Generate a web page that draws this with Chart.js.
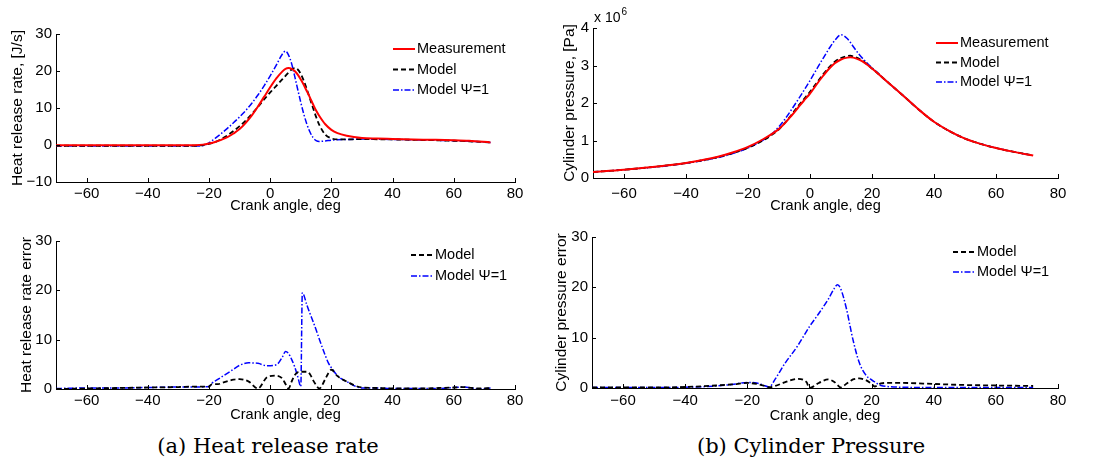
<!DOCTYPE html>
<html>
<head>
<meta charset="utf-8">
<script src="https://cdn.jsdelivr.net/npm/chart.js@4/dist/chart.umd.min.js"></script>
<style>
    body { margin: 0; background: #fff; width: 1096px; height: 472px; position: relative; overflow: hidden; }
    canvas { position: absolute; }
    .caption { position: absolute; top: 434px; font-family: "DejaVu Serif", "Liberation Serif", serif; font-size: 21px; color: #000; transform: translateX(-50%); white-space: nowrap; }
</style>
</head>
<body>
<canvas id="hrr" width="548" height="216" style="left:0;top:0"></canvas>
<canvas id="pres" width="548" height="216" style="left:548px;top:0"></canvas>
<canvas id="hrrErr" width="548" height="210" style="left:0;top:216px"></canvas>
<canvas id="presErr" width="548" height="210" style="left:548px;top:216px"></canvas>
<div class="caption" style="left:268px">(a) Heat release rate</div>
<div class="caption" style="left:811px">(b) Cylinder Pressure</div>
<script>
// --- Data ---
const xTicks = [-60, -40, -20, 0, 20, 40, 60, 80];
const hrrTicks = [-10, 0, 10, 20, 30];
const presTicks = [0, 1, 2, 3, 4];
const errTicks = [0, 10, 20, 30];

// heat release rate [J/s]
const hrrAngle = [-70, -60, -50, -40, -30, -25, -22, -20, -18, -16, -14, -12, -10, -8, -6, -4, -2, 0, 2, 4, 5, 6, 7, 8, 9, 10, 11, 12, 13, 14, 15, 16, 18, 20, 22, 25, 30, 35, 40, 50, 60, 65, 72];
const hrrMeasured = [-0.1, -0.1, -0.1, -0.1, -0.1, -0.05, 0.1, 0.4, 0.8, 1.4, 2.1, 3.1, 4.3, 6.0, 8.0, 10.4, 13.0, 15.6, 18.0, 19.9, 20.6, 20.8, 20.6, 20.0, 19.0, 17.7, 16.2, 14.5, 12.8, 11.0, 9.3, 7.9, 5.6, 4.1, 3.2, 2.5, 1.9, 1.75, 1.65, 1.45, 1.3, 1.15, 0.7];
const hrrModel = [-0.2, -0.2, -0.2, -0.2, -0.2, -0.2, 0.0, 0.3, 0.8, 1.6, 2.6, 3.8, 5.1, 6.6, 8.4, 10.3, 12.3, 14.2, 16.0, 17.8, 18.7, 19.6, 20.4, 20.8, 20.4, 19.2, 17.3, 15.0, 12.5, 10.0, 7.6, 5.5, 2.8, 1.8, 1.5, 1.5, 1.6, 1.55, 1.5, 1.35, 1.15, 1.0, 0.7];
const hrrModelPsi = [-0.3, -0.3, -0.3, -0.3, -0.3, -0.3, -0.2, 0.6, 1.8, 3.1, 4.5, 6.0, 7.6, 9.3, 11.3, 13.5, 16.0, 18.7, 21.6, 24.6, 25.4, 24.3, 22.0, 18.6, 15.0, 11.5, 8.3, 5.6, 3.5, 2.0, 1.2, 0.95, 1.1, 1.3, 1.4, 1.5, 1.6, 1.55, 1.5, 1.35, 1.15, 1.0, 0.7];

// cylinder pressure [1e6 Pa]
const presAngle = [-70, -60, -50, -40, -30, -25, -20, -15, -12, -10, -8, -6, -4, -2, 0, 2, 4, 6, 8, 10, 12, 13, 14, 16, 18, 20, 22, 25, 30, 35, 40, 45, 50, 55, 60, 65, 72];
const presMeasured = [0.16, 0.22, 0.30, 0.40, 0.56, 0.68, 0.83, 1.04, 1.19, 1.31, 1.47, 1.66, 1.86, 2.06, 2.25, 2.48, 2.70, 2.90, 3.06, 3.16, 3.21, 3.22, 3.21, 3.15, 3.05, 2.92, 2.78, 2.56, 2.20, 1.83, 1.50, 1.25, 1.05, 0.91, 0.80, 0.71, 0.60];
const presModel = [0.16, 0.22, 0.30, 0.40, 0.55, 0.66, 0.81, 1.01, 1.17, 1.30, 1.48, 1.68, 1.90, 2.10, 2.30, 2.52, 2.74, 2.94, 3.10, 3.20, 3.25, 3.26, 3.24, 3.17, 3.06, 2.92, 2.78, 2.56, 2.20, 1.83, 1.50, 1.25, 1.05, 0.91, 0.80, 0.71, 0.60];
const presModelPsi = [0.16, 0.22, 0.29, 0.39, 0.54, 0.65, 0.80, 1.02, 1.20, 1.37, 1.58, 1.82, 2.07, 2.33, 2.60, 2.88, 3.16, 3.43, 3.67, 3.82, 3.72, 3.62, 3.50, 3.28, 3.10, 2.94, 2.79, 2.56, 2.20, 1.83, 1.50, 1.25, 1.05, 0.91, 0.80, 0.71, 0.60];

// heat release rate error
const hrrErrAngle = [-70, -60, -50, -40, -30, -25, -20, -19, -17, -15, -12, -10, -7, -4, -1, 2, 4, 5, 6, 7, 8, 9, 10, 10.5, 12, 13, 14, 15, 16, 18, 19, 20, 22, 25, 30, 35, 40, 45, 50, 55, 60, 63, 66, 68, 72];
const hrrErrModel = [0.0, 0.1, 0.2, 0.3, 0.4, 0.5, 0.5, 1.0, 1.0, 1.4, 1.9, 2.0, 1.5, 0.1, 2.4, 2.7, 2.1, 1.0, 0.1, 1.5, 2.8, 3.4, 3.5, 3.5, 3.5, 3.0, 1.8, 0.8, 0.1, 2.0, 3.2, 3.9, 2.6, 1.5, 0.3, 0.2, 0.1, 0.1, 0.1, 0.2, 0.3, 0.4, 0.2, 0.1, 0.2];
const hrrErrModelPsi = [0.1, 0.2, 0.2, 0.3, 0.4, 0.4, 0.5, 1.2, 2.0, 2.8, 4.0, 4.8, 5.3, 5.2, 4.7, 4.9, 6.5, 7.6, 7.2, 6.0, 4.5, 2.5, 0.5, 19.5, 17.0, 15.3, 13.7, 12.0, 10.2, 6.8, 5.3, 4.3, 2.7, 1.5, 0.2, 0.2, 0.1, 0.1, 0.1, 0.1, 0.3, 0.4, 0.2, 0.0, 0.2];

// cylinder pressure error
const presErrAngle = [-70, -60, -50, -40, -30, -25, -20, -17, -15, -13, -11, -8, -4, -1, 0, 3, 6, 8, 9, 10, 12, 13, 14, 16, 18, 20, 21, 22, 23, 25, 30, 40, 50, 60, 72];
const presErrModel = [0.1, 0.1, 0.1, 0.2, 0.5, 0.7, 1.0, 0.8, 0.5, 0.15, 0.4, 1.1, 1.8, 1.2, 0.0, 1.0, 1.7, 1.2, 0.6, 0.1, 0.9, 1.3, 1.7, 1.9, 1.6, 0.8, 0.3, 0.6, 0.9, 1.0, 1.0, 0.8, 0.6, 0.5, 0.4];
const presErrModelPsi = [0.1, 0.1, 0.1, 0.15, 0.4, 0.7, 1.1, 1.0, 0.6, 0.2, 1.8, 4.8, 8.2, 11.2, 12.2, 14.8, 17.6, 19.8, 20.5, 19.8, 15.5, 12.5, 9.6, 5.1, 2.7, 1.6, 1.2, 0.8, 0.5, 0.3, 0.15, 0.1, 0.1, 0.1, 0.1];

const FONT = '"Liberation Sans", Arial, sans-serif';

// --- Styles of the three lines ---
const measuredStyle = { label: 'Measurement', borderColor: '#ff0000', borderWidth: 2, borderDash: [] };
const modelStyle = { label: 'Model', borderColor: '#000000', borderWidth: 1.8, borderDash: [5, 3] };
const psiStyle = { label: 'Model \u03A8=1', borderColor: '#0000ff', borderWidth: 1.5, borderDash: [6, 2, 1.5, 2] };

function series(style, angles, values) {
    return Object.assign({}, style, {
        data: angles.map((a, i) => ({ x: a, y: values[i] })),
        pointRadius: 0,
        fill: false,
        cubicInterpolationMode: 'monotone'
    });
}

// MATLAB style ticks pointing into the axes
const inwardTicks = {
    id: 'inwardTicks',
    afterDraw(chart) {
        const { ctx, chartArea: a, scales: { x, y } } = chart;
        ctx.save();
        ctx.strokeStyle = '#000';
        ctx.lineWidth = 1;
        ctx.beginPath();
        x.ticks.forEach(t => {
            const px = Math.round(x.getPixelForValue(t.value)) + 0.5;
            ctx.moveTo(px, a.bottom);
            ctx.lineTo(px, a.bottom - 4);
        });
        y.ticks.forEach(t => {
            const py = Math.round(y.getPixelForValue(t.value)) + 0.5;
            ctx.moveTo(a.left, py);
            ctx.lineTo(a.left + 4, py);
        });
        ctx.stroke();
        ctx.restore();
    }
};

// Legend without a box, inside the axes
const miniLegend = {
    id: 'miniLegend',
    afterDraw(chart, args, opts) {
        const ctx = chart.ctx;
        ctx.save();
        ctx.font = '14.5px ' + FONT;
        ctx.textBaseline = 'middle';
        chart.data.datasets.forEach((ds, i) => {
            const yy = opts.y + i * opts.gap;
            ctx.strokeStyle = ds.borderColor;
            ctx.lineWidth = ds.borderWidth;
            ctx.setLineDash(ds.borderDash || []);
            ctx.beginPath();
            ctx.moveTo(opts.x, yy);
            ctx.lineTo(opts.x + opts.len, yy);
            ctx.stroke();
            ctx.setLineDash([]);
            ctx.fillStyle = '#000';
            ctx.fillText(ds.label, opts.x + opts.len + 2, yy);
        });
        ctx.restore();
    }
};

// "x 10^6" multiplier above the pressure axis
const exponentLabel = {
    id: 'exponentLabel',
    afterDraw(chart, args, opts) {
        if (!opts.show) return;
        const ctx = chart.ctx;
        ctx.save();
        ctx.fillStyle = '#000';
        ctx.textBaseline = 'alphabetic';
        ctx.font = '14px ' + FONT;
        ctx.fillText('x 10', opts.x, opts.y);
        const w = ctx.measureText('x 10').width;
        ctx.font = '10px ' + FONT;
        ctx.fillText('6', opts.x + w + 1, opts.y - 7);
        ctx.restore();
    }
};

const minus = v => String(v).replace('-', '\u2212');

function makeChart(id, datasets, cfg) {
    return new Chart(document.getElementById(id), {
        type: 'line',
        data: { datasets: datasets },
        plugins: [inwardTicks, miniLegend, exponentLabel],
        options: {
            responsive: false,
            animation: false,
            layout: { padding: { left: 0, top: cfg.top, right: cfg.right, bottom: 0 } },
            plugins: {
                legend: { display: false },
                tooltip: { enabled: false },
                miniLegend: cfg.legend,
                exponentLabel: cfg.exponent || { show: false }
            },
            scales: {
                x: {
                    type: 'linear',
                    min: -70,
                    max: 80,
                    afterBuildTicks: s => { s.ticks = xTicks.map(v => ({ value: v })); },
                    afterFit: s => { s.height = cfg.xHeight; },
                    grid: { display: false, drawTicks: false },
                    border: { display: true, color: '#000', width: 1 },
                    ticks: { color: '#000', font: { family: FONT, size: 15 }, padding: cfg.xPad, maxRotation: 0, autoSkip: false, callback: minus },
                    title: { display: true, text: 'Crank angle, deg', color: '#000', font: { family: FONT, size: 14.5 }, padding: { top: 0, bottom: cfg.xTitlePad } }
                },
                y: {
                    type: 'linear',
                    min: cfg.yTicks[0],
                    max: cfg.yTicks[cfg.yTicks.length - 1],
                    afterBuildTicks: s => { s.ticks = cfg.yTicks.map(v => ({ value: v })); },
                    afterFit: s => { s.width = cfg.yWidth; },
                    grid: { display: false, drawTicks: false },
                    border: { display: true, color: '#000', width: 1 },
                    ticks: { color: '#000', font: { family: FONT, size: 15 }, padding: 4, autoSkip: false, callback: minus },
                    title: { display: true, text: cfg.yTitle, color: '#000', font: { family: FONT, size: 15.5 }, padding: { top: cfg.yTitlePad, bottom: 0 } }
                }
            }
        }
    });
}

makeChart('hrr', [
    series(measuredStyle, hrrAngle, hrrMeasured),
    series(modelStyle, hrrAngle, hrrModel),
    series(psiStyle, hrrAngle, hrrModelPsi)
], {
    top: 34, right: 33, yWidth: 56, xHeight: 34, xPad: 3, xTitlePad: 1, yTitlePad: 8,
    yTicks: hrrTicks, yTitle: 'Heat release rate, [J/s]',
    legend: { x: 393, y: 49, gap: 20.5, len: 22 }
});

makeChart('pres', [
    series(measuredStyle, presAngle, presMeasured),
    series(modelStyle, presAngle, presModel),
    series(psiStyle, presAngle, presModelPsi)
], {
    top: 28, right: 38, yWidth: 45, xHeight: 38, xPad: 7, xTitlePad: 1, yTitlePad: 12,
    yTicks: presTicks, yTitle: 'Cylinder pressure, [Pa]',
    legend: { x: 388, y: 43, gap: 19.5, len: 22 },
    exponent: { show: true, x: 46, y: 22 }
});

makeChart('hrrErr', [
    series(modelStyle, hrrErrAngle, hrrErrModel),
    series(psiStyle, hrrErrAngle, hrrErrModelPsi)
], {
    top: 25, right: 33, yWidth: 56, xHeight: 37, xPad: 3, xTitlePad: 2, yTitlePad: 17,
    yTicks: errTicks, yTitle: 'Heat release rate error',
    legend: { x: 411, y: 39, gap: 21, len: 22 }
});

makeChart('presErr', [
    series(modelStyle, presErrAngle, presErrModel),
    series(psiStyle, presErrAngle, presErrModelPsi)
], {
    top: 21, right: 38, yWidth: 44, xHeight: 38, xPad: 4, xTitlePad: 1, yTitlePad: 4,
    yTicks: errTicks, yTitle: 'Cylinder pressure error',
    legend: { x: 405, y: 36, gap: 20, len: 22 }
});
</script>
</body>
</html>
